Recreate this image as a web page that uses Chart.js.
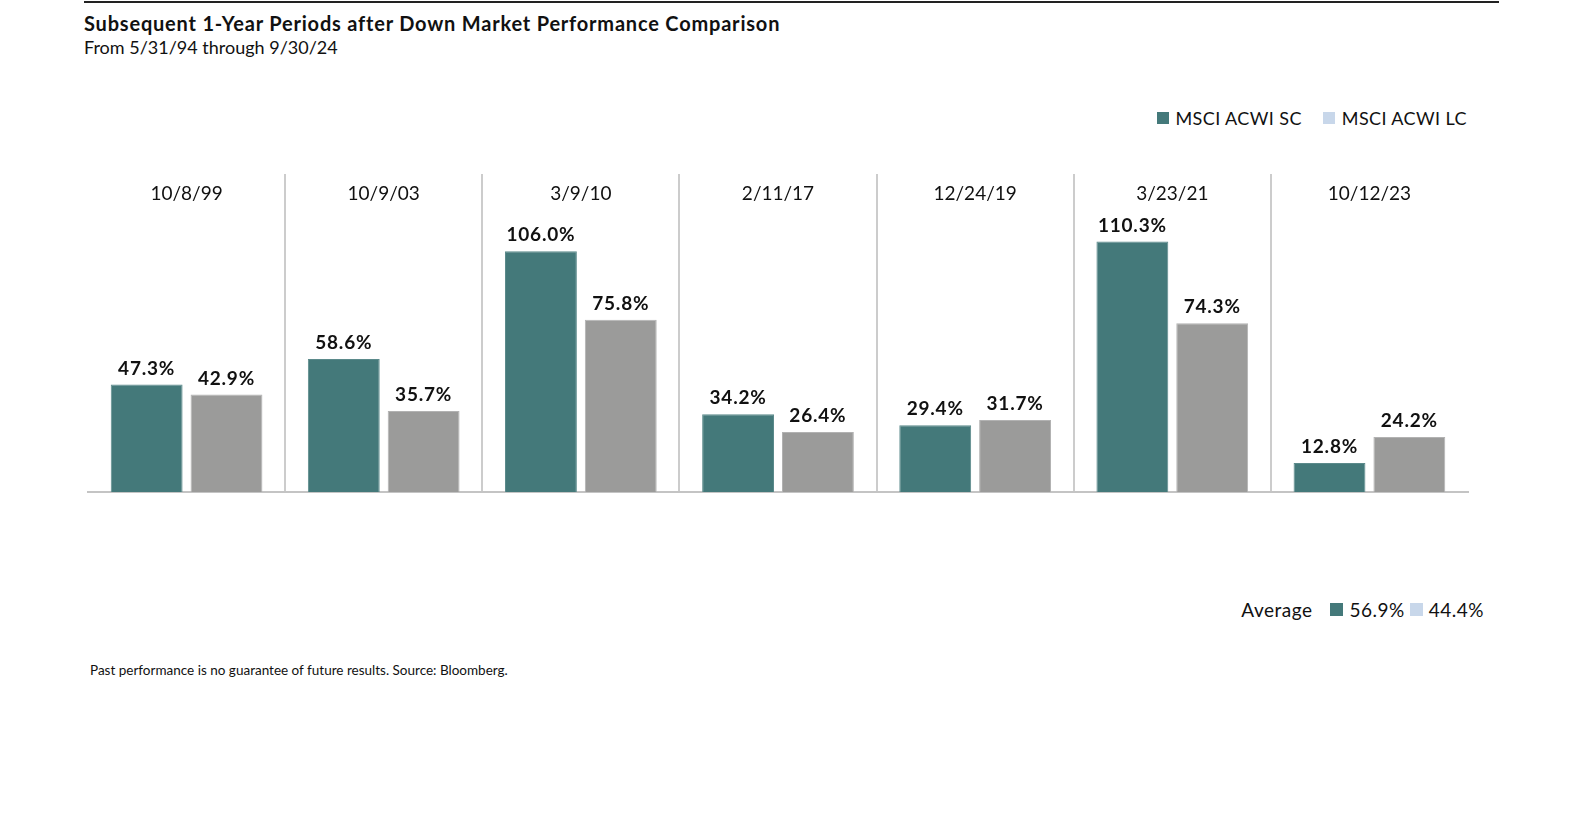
<!DOCTYPE html>
<html>
<head>
<meta charset="utf-8">
<script src="https://cdn.jsdelivr.net/npm/chart.js@4"></script>
<style>
    body { margin: 0; background: #fff; font-family: "Lato", sans-serif; color: #111; }
    .page { position: relative; width: 1584px; height: 833px; overflow: hidden; }
    .topline { position: absolute; left: 84px; top: 1px; width: 1415px; height: 2px; background: #222; }
    .title { position: absolute; left: 84px; top: 11px; font-size: 20px; font-weight: 700; letter-spacing: 0.8px; }
    .subtitle { position: absolute; left: 84px; top: 36px; font-size: 18px; }
    .legend { position: absolute; top: 107px; right: 117px; font-size: 18px; letter-spacing: 0.4px; display: flex; align-items: center; }
    .legend span.box { display: inline-block; width: 12px; height: 12px; margin-right: 7px; }
    .legend .item { display: flex; align-items: center; margin-left: 21px; }
    .avg { position: absolute; top: 598px; right: 100px; font-size: 19px; letter-spacing: 0.5px; display: flex; align-items: center; }
    .avg span.box { display: inline-block; width: 13px; height: 13px; margin-right: 6px; }
    .note { position: absolute; left: 90px; top: 662px; font-size: 13.5px; }
    canvas { position: absolute; left: 0; top: 0; }
</style>
</head>
<body>
<div class="page">
    <div class="topline"></div>
    <div class="title">Subsequent 1-Year Periods after Down Market Performance Comparison</div>
    <div class="subtitle">From 5/31/94 through 9/30/24</div>
    <div class="legend">
        <div class="item"><span class="box" style="background:#44797a"></span>MSCI ACWI SC</div>
        <div class="item"><span class="box" style="background:#c8d7ea"></span>MSCI ACWI LC</div>
    </div>
    <div class="avg">
        <span style="margin-right:18px">Average</span>
        <span class="box" style="background:#44797a"></span><span style="margin-right:5px">56.9%</span>
        <span class="box" style="background:#c8d7ea"></span><span>44.4%</span>
    </div>
    <div class="note">Past performance is no guarantee of future results. Source: Bloomberg.</div>
    <canvas id="chart" width="1584" height="833"></canvas>
</div>
<script>
const categories = ["10/8/99", "10/9/03", "3/9/10", "2/11/17", "12/24/19", "3/23/21", "10/12/23"];
const smallCap = [47.3, 58.6, 106.0, 34.2, 29.4, 110.3, 12.8];
const largeCap = [42.9, 35.7, 75.8, 26.4, 31.7, 74.3, 24.2];

// category names above each group, value labels above each bar
const labelsPlugin = {
    id: "labels",
    afterDatasetsDraw(chart) {
        const ctx = chart.ctx;
        const x = chart.scales.x;
        ctx.save();
        ctx.textAlign = "center";
        ctx.textBaseline = "middle";
        ctx.fillStyle = "#111";
        ctx.font = "19px Lato";
        categories.forEach((c, i) => {
            ctx.fillText(c, x.getPixelForValue(i), 194);
        });
        ctx.font = "bold 19px Lato";
        ctx.letterSpacing = "0.8px";
        chart.data.datasets.forEach((ds, di) => {
            chart.getDatasetMeta(di).data.forEach((bar, i) => {
                ctx.fillText(ds.data[i].toFixed(1) + "%", bar.x, bar.y - 16);
            });
        });
        ctx.restore();
    }
};

const canvas = document.getElementById("chart");
new Chart(canvas.getContext("2d"), {
    type: "bar",
    data: {
        labels: categories,
        datasets: [{
            label: "MSCI ACWI SC",
            data: smallCap,
            backgroundColor: "#44797a",
            borderColor: "#5b8a8b",
            borderWidth: 1
        }, {
            label: "MSCI ACWI LC",
            data: largeCap,
            backgroundColor: "#9b9b9a",
            borderColor: "#b2b2b2",
            borderWidth: 1
        }]
    },
    plugins: [labelsPlugin],
    options: {
        responsive: false,
        animation: false,
        layout: { padding: { left: 88, right: 116, top: 174, bottom: 341 } },
        datasets: { bar: { categoryPercentage: 0.81, barPercentage: 0.9 } },
        scales: {
            x: {
                ticks: { display: false },
                grid: {
                    offset: true,
                    tickLength: 0,
                    lineWidth: 2,
                    color: ctx => (ctx.type !== "tick" || ctx.index === 0) ? "rgba(0,0,0,0)" : "#cccccc"
                },
                border: { display: true, color: "#c4c4c4", width: 2 }
            },
            y: { display: false, min: 0, max: 140 }
        },
        plugins: {
            legend: { display: false },
            tooltip: { enabled: false }
        }
    }
});
</script>
</body>
</html>
